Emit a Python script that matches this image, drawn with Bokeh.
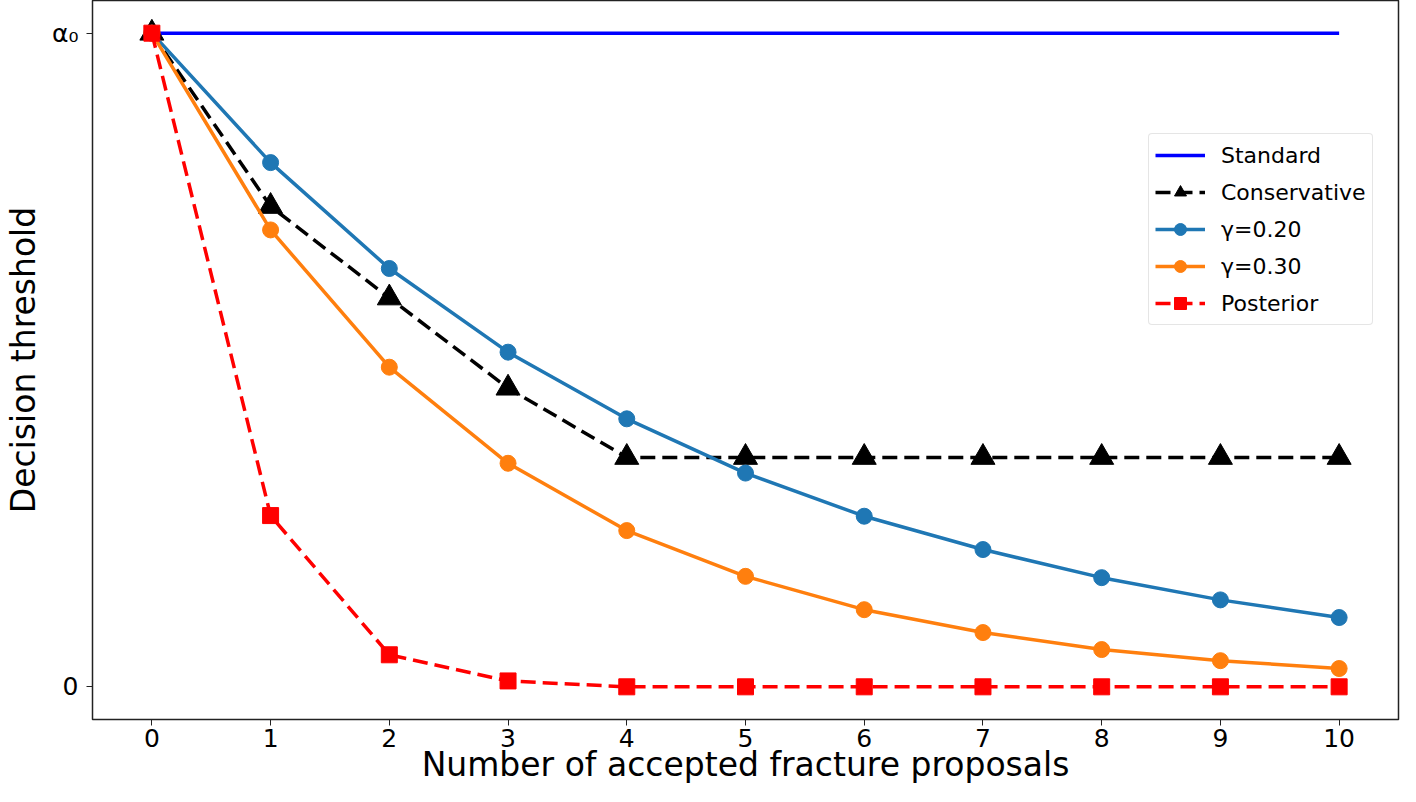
from bokeh.plotting import figure
from bokeh.models import Range1d, FixedTicker, Legend, LegendItem
from bokeh.embed import file_html
from bokeh.resources import INLINE

x = [0, 1, 2, 3, 4, 5, 6, 7, 8, 9, 10]
standard = [1.0] * 11
conservative = [1.0, 0.735, 0.595, 0.457, 0.351, 0.351, 0.351, 0.351, 0.351, 0.351, 0.351]
gamma20 = [1.0, 0.802, 0.640, 0.512, 0.410, 0.327, 0.261, 0.210, 0.167, 0.133, 0.106]
gamma30 = [1.0, 0.699, 0.489, 0.342, 0.239, 0.169, 0.118, 0.083, 0.057, 0.040, 0.028]
posterior = [1.0, 0.262, 0.049, 0.009, 0.0, 0.0, 0.0, 0.0, 0.0, 0.0, 0.0]
x_ticks = [0, 1, 2, 3, 4, 5, 6, 7, 8, 9, 10]
y_ticks = [0, 1]
y_tick_labels = {0: "0", 1: "α₀"}

FONT = "DejaVu Sans"

p = figure(width=1400, height=786, output_backend="svg", toolbar_location=None,
           x_range=Range1d(-0.5, 10.5), y_range=Range1d(-0.05, 1.05),
           min_border_left=10, min_border_right=2, min_border_top=0, min_border_bottom=10)
p.xgrid.visible = False
p.ygrid.visible = False
p.outline_line_color = "#222222"
p.outline_line_width = 1.5
p.background_fill_color = "white"

p.xaxis.ticker = FixedTicker(ticks=x_ticks)
p.yaxis.ticker = FixedTicker(ticks=y_ticks)
p.yaxis.major_label_overrides = y_tick_labels
for ax in (p.xaxis, p.yaxis):
    ax.minor_tick_line_color = None
    ax.major_tick_out = 6
    ax.major_tick_in = 0
    ax.axis_line_color = "#222222"
    ax.major_tick_line_color = "#222222"
    ax.major_label_text_font = FONT
    ax.major_label_text_font_size = "25px"
    ax.major_label_text_color = "black"
    ax.axis_label_text_font = FONT
    ax.axis_label_text_font_size = "33px"
    ax.axis_label_text_font_style = "normal"
    ax.axis_label_text_color = "black"
p.xaxis.axis_label = "Number of accepted fracture proposals"
p.yaxis.axis_label = "Decision threshold"
p.xaxis.major_label_standoff = 3
p.yaxis.major_label_standoff = 8
p.xaxis.axis_label_standoff = -5
p.yaxis.axis_label_standoff = 6

r_std = p.line(x, standard, line_color="#0000ff", line_width=3.5)

r_con_l = p.line(x, conservative, line_color="black", line_width=3.5, line_dash="15 7")
r_con_m = p.scatter(x, conservative, marker="triangle", size=24, fill_color="black", line_color="black")

r_g20_l = p.line(x, gamma20, line_color="#1f77b4", line_width=3.5)
r_g20_m = p.scatter(x, gamma20, marker="circle", size=16, fill_color="#1f77b4", line_color="#1f77b4")

r_g30_l = p.line(x, gamma30, line_color="#ff7f0e", line_width=3.5)
r_g30_m = p.scatter(x, gamma30, marker="circle", size=16, fill_color="#ff7f0e", line_color="#ff7f0e")

r_pos_l = p.line(x, posterior, line_color="#ff0000", line_width=3.5, line_dash="15 7")
r_pos_m = p.scatter(x, posterior, marker="square", size=16, fill_color="#ff0000", line_color="#ff0000")

legend = Legend(items=[
    LegendItem(label="Standard", renderers=[r_std]),
    LegendItem(label="Conservative", renderers=[r_con_l, r_con_m]),
    LegendItem(label="γ=0.20", renderers=[r_g20_l, r_g20_m]),
    LegendItem(label="γ=0.30", renderers=[r_g30_l, r_g30_m]),
    LegendItem(label="Posterior", renderers=[r_pos_l, r_pos_m]),
], location=(1056, 394))
legend.label_text_font = FONT
legend.label_text_font_size = "22px"
legend.label_text_color = "black"
legend.glyph_width = 50
legend.glyph_height = 30
legend.label_height = 30
legend.spacing = 7
legend.padding = 6
legend.margin = 0
legend.label_standoff = 16
legend.border_line_color = "#cccccc"
legend.border_line_width = 1
legend.border_radius = 4
legend.background_fill_alpha = 0.9
p.add_layout(legend, "center")

open("out.html", "w").write(file_html(p, INLINE))
